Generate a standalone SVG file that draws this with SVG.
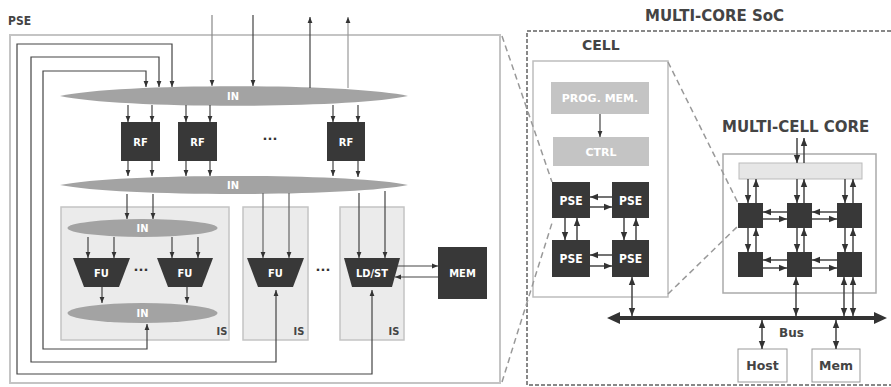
<svg xmlns="http://www.w3.org/2000/svg" width="891" height="387" viewBox="0 0 891 387">
<defs>
<style>
.dk{fill:#383838;}
.in{fill:#a3a3a3;}
.is{fill:#ebebeb;stroke:#c4c4c4;stroke-width:1.5;}
.lbl{fill:#fff;font-family:'DejaVu Sans Condensed','Liberation Sans',sans-serif;font-weight:bold;font-size:11px;text-anchor:middle;}
.ttl{fill:#444;font-family:'DejaVu Sans','Verdana',sans-serif;font-weight:bold;font-size:15px;}
.dot{fill:#333;font-family:'DejaVu Sans',sans-serif;font-weight:bold;font-size:13px;text-anchor:middle;}
.c{fill:none;stroke:#444;stroke-width:1.2;marker-end:url(#ah);}
.cb{fill:none;stroke:#444;stroke-width:1.2;marker-end:url(#ah);marker-start:url(#ah);}
.c2{fill:none;stroke:#444;stroke-width:1.5;marker-end:url(#ah2);}
.cb2{fill:none;stroke:#444;stroke-width:1.5;marker-end:url(#ah2);marker-start:url(#ah2);}
.dsh{fill:none;stroke:#999;stroke-width:1.5;stroke-dasharray:6,4;}
</style>
<marker id="ah" viewBox="0 0 10 10" refX="10" refY="5" markerWidth="6" markerHeight="6" orient="auto-start-reverse" markerUnits="userSpaceOnUse"><path d="M0,1 L10,5 L0,9 z" fill="#333"/></marker>
<marker id="ah2" viewBox="0 0 10 10" refX="10" refY="5" markerWidth="8" markerHeight="8" orient="auto-start-reverse" markerUnits="userSpaceOnUse"><path d="M0,1 L10,5 L0,9 z" fill="#333"/></marker>
</defs>
<rect width="891" height="387" fill="#fff"/>

<!-- PSE panel -->
<g id="pse-panel">
<rect x="10" y="35" width="490" height="348" fill="#fff" stroke="#c4c4c4" stroke-width="2"/>
<text x="8" y="25" class="lbl" style="fill:#444;text-anchor:start;font-size:12px">PSE</text>
</g>
<g id="is1"><rect x="61" y="207" width="168" height="133" class="is"/><text x="222" y="335" class="lbl" style="fill:#444">IS</text></g>
<g id="is2"><rect x="243" y="207" width="65" height="133" class="is"/><text x="299" y="335" class="lbl" style="fill:#444">IS</text></g>
<g id="is3"><rect x="340" y="207" width="64" height="133" class="is"/><text x="394" y="335" class="lbl" style="fill:#444">IS</text></g>

<g id="in-top"><path d="M60,96 C120,83 348,83 408,96 C348,109 120,109 60,96 Z" class="in"/><text x="233" y="100" class="lbl">IN</text></g>
<g id="in-mid"><path d="M60,185 C120,173 348,173 408,185 C348,197 120,197 60,185 Z" class="in"/><text x="233" y="189" class="lbl">IN</text></g>
<g id="rf1"><rect x="121" y="122" width="39" height="39" class="dk"/><text x="140.5" y="146" class="lbl">RF</text></g>
<g id="rf2"><rect x="178" y="122" width="39" height="39" class="dk"/><text x="197.5" y="146" class="lbl">RF</text></g>
<g id="rf3"><rect x="327" y="122" width="38" height="39" class="dk"/><text x="346" y="146" class="lbl">RF</text></g>
<text x="270" y="143" class="dot">···</text>

<g id="in-is-top"><ellipse cx="142.5" cy="228" rx="75" ry="9" class="in"/><text x="142.5" y="232" class="lbl">IN</text></g>
<g id="in-is-bot"><ellipse cx="142.5" cy="313" rx="75" ry="10" class="in"/><text x="142.5" y="317" class="lbl">IN</text></g>
<g id="fu1"><path d="M73,258 H130 L119,287 H84 Z" class="dk"/><text x="101.5" y="277" class="lbl">FU</text></g>
<g id="fu2"><path d="M157,258 H213 L202,287 H168 Z" class="dk"/><text x="185" y="277" class="lbl">FU</text></g>
<text x="141" y="274" class="dot">···</text>
<g id="fu3"><path d="M247,258 H304 L293,287 H258 Z" class="dk"/><text x="275.5" y="277" class="lbl">FU</text></g>
<text x="323" y="274" class="dot">···</text>
<g id="ldst"><path d="M344,258 H400 L392,287 H352 Z" class="dk"/><text x="372" y="277" class="lbl">LD/ST</text></g>
<g id="mem"><rect x="438" y="247" width="49" height="52" class="dk"/><text x="462.5" y="277" class="lbl">MEM</text></g>

<!-- SoC -->
<g id="soc">
<path d="M891,31 H527 V385 H891" fill="none" stroke="#888" stroke-width="2" stroke-dasharray="4,2"/>
<text x="645" y="21" class="ttl">MULTI-CORE SoC</text>
</g>
<g id="cell">
<rect x="533" y="61" width="135" height="236" fill="#fff" stroke="#bdbdbd" stroke-width="1.5"/>
<text x="582" y="50" class="ttl" style="font-size:14px">CELL</text>
</g>
<g id="progmem"><rect x="551" y="82" width="98" height="32" fill="#c4c4c4"/><text x="600" y="102" class="lbl" style="font-family:'DejaVu Sans',sans-serif;font-size:11px">PROG. MEM.</text></g>
<g id="ctrl"><rect x="553" y="137" width="96" height="29" fill="#c4c4c4"/><text x="601" y="156" class="lbl" style="font-family:'DejaVu Sans',sans-serif">CTRL</text></g>
<g id="cpse1"><rect x="552" y="182" width="38" height="36" class="dk"/><text x="571" y="205" class="lbl" style="font-size:12px">PSE</text></g>
<g id="cpse2"><rect x="612" y="182" width="37" height="36" class="dk"/><text x="630.5" y="205" class="lbl" style="font-size:12px">PSE</text></g>
<g id="cpse3"><rect x="552" y="240" width="38" height="37" class="dk"/><text x="571" y="263" class="lbl" style="font-size:12px">PSE</text></g>
<g id="cpse4"><rect x="612" y="240" width="37" height="37" class="dk"/><text x="630.5" y="263" class="lbl" style="font-size:12px">PSE</text></g>

<g id="mcc">
<rect x="723" y="154" width="153" height="139" fill="#fff" stroke="#aaa" stroke-width="1.5"/>
<text x="722" y="132" class="ttl">MULTI-CELL CORE</text>
<rect x="739" y="163" width="123" height="16" fill="#e6e6e6" stroke="#bbb" stroke-width="1"/>
</g>
<g id="n11"><rect x="738" y="203" width="25" height="25" class="dk"/></g>
<g id="n12"><rect x="787" y="203" width="25" height="25" class="dk"/></g>
<g id="n13"><rect x="837" y="203" width="25" height="25" class="dk"/></g>
<g id="n21"><rect x="738" y="252" width="25" height="25" class="dk"/></g>
<g id="n22"><rect x="787" y="252" width="25" height="25" class="dk"/></g>
<g id="n23"><rect x="837" y="252" width="25" height="25" class="dk"/></g>

<g id="host"><rect x="738" y="349" width="49" height="33" fill="#fff" stroke="#999"/><text x="762.5" y="370" class="ttl" style="font-size:12.5px;text-anchor:middle">Host</text></g>
<g id="memb"><rect x="812" y="349" width="48" height="33" fill="#fff" stroke="#999"/><text x="836" y="370" class="ttl" style="font-size:12.5px;text-anchor:middle">Mem</text></g>

<g id="connectors">
<path d="M212,15 V86" class="c" style="stroke:#888"/>
<path d="M253,15 V86" class="c"/>
<path d="M310,88 V17" class="c"/>
<path d="M348,88 V17" class="c" style="stroke:#999"/>
<path d="M372,290 V374 H17 V44 H172 V87" class="cb"/>
<path d="M276,290 V362 H31 V57 H159 V87" class="cb"/>
<path d="M147,324 V349 H43 V71 H146 V87" class="cb"/>
<path d="M128,105 V122" class="c"/><path d="M152,105 V122" class="c"/>
<path d="M186,105 V122" class="c"/><path d="M210,105 V122" class="c"/>
<path d="M333,105 V122" class="c"/><path d="M358,105 V122" class="c"/>
<path d="M128,161 V176" class="c"/><path d="M152,161 V176" class="c"/>
<path d="M186,161 V176" class="c"/><path d="M210,161 V176" class="c"/>
<path d="M333,161 V176" class="c"/><path d="M358,161 V177" class="c"/>
<path d="M127,194 V219" class="c"/><path d="M153,194 V219" class="c"/>
<path d="M263,193 V258" class="c" style="stroke:#666"/><path d="M289,193 V258" class="c" style="stroke:#666"/>
<path d="M359,193 V258" class="c"/><path d="M385,191 V258" class="c"/>
<path d="M88,237 V258" class="c"/><path d="M114,237 V258" class="c"/>
<path d="M172,237 V258" class="c"/><path d="M198,237 V258" class="c"/>
<path d="M102,287 V303" class="c"/><path d="M187,287 V303" class="c"/>
<path d="M397,266 H438" class="c"/>
<path d="M438,277 H395" class="c"/>
<path d="M502,36 L552,182" class="dsh"/>
<path d="M502,382 L552,223" class="dsh"/>
<path d="M668,62 L738,203" class="dsh"/>
<path d="M668,294 L738,226" class="dsh"/>
<path d="M600,114 V137" class="c"/>
<path d="M612,197 H590" class="c2"/><path d="M590,207 H612" class="c2"/>
<path d="M612,255 H590" class="c2"/><path d="M590,266 H612" class="c2"/>
<path d="M565,218 V240" class="c2"/><path d="M577,240 V218" class="c2"/>
<path d="M624,218 V240" class="c2"/><path d="M636,240 V218" class="c2"/>
<path d="M632,316 V277" class="cb2"/>
<path d="M797,138 V163" class="c2"/><path d="M804,163 V138" class="c2"/>
<path d="M748,179 V203" class="c2"/><path d="M756,203 V179" class="c2"/>
<path d="M797,179 V203" class="c2"/><path d="M804,203 V179" class="c2"/>
<path d="M845,179 V203" class="c2"/><path d="M853,203 V179" class="c2"/>
<path d="M748,228 V252" class="c2"/><path d="M756,252 V228" class="c2"/>
<path d="M797,228 V252" class="c2"/><path d="M804,252 V228" class="c2"/>
<path d="M845,228 V252" class="c2"/><path d="M853,252 V228" class="c2"/>
<path d="M787,212 H763" class="c2"/><path d="M763,219 H787" class="c2"/>
<path d="M837,212 H812" class="c2"/><path d="M812,219 H837" class="c2"/>
<path d="M787,260 H763" class="c2"/><path d="M763,268 H787" class="c2"/>
<path d="M837,260 H812" class="c2"/><path d="M812,268 H837" class="c2"/>
<path d="M796,316 V277" class="cb2"/>
<path d="M844,316 V277" class="cb2"/>
<path d="M853,316 V277" class="cb2"/>
<path d="M616,318 H878" stroke="#333" stroke-width="4" fill="none"/>
<path d="M607,318 L620,312 L620,324 Z M887,318 L874,312 L874,324 Z" fill="#333"/>
<path d="M762,320 V349" class="cb2"/>
<path d="M836,320 V349" class="cb2"/>
<text x="779" y="337" class="ttl" style="font-size:12px">Bus</text>
</g>
</svg>
